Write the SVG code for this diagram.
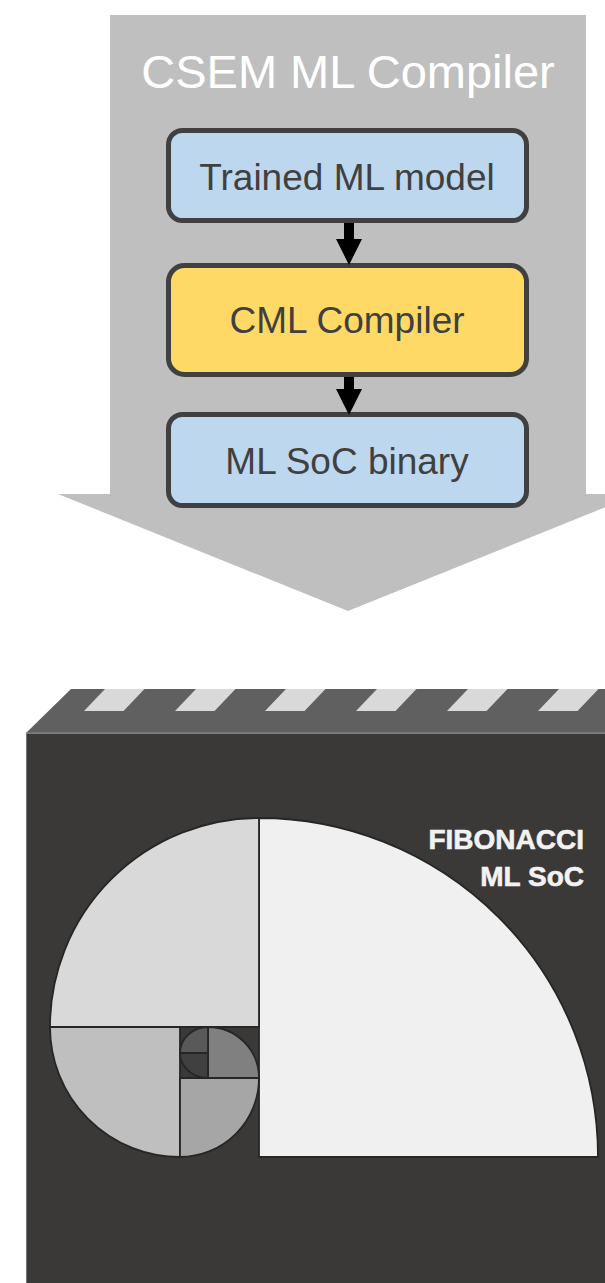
<svg xmlns="http://www.w3.org/2000/svg" width="605" height="1283" viewBox="0 0 605 1283">
  <defs>
    <style>
      .title { font-family: "Liberation Sans", Arial, sans-serif; font-size: 47px; fill: #ffffff; text-anchor: middle; }
      .lbl { font-family: "Liberation Sans", Arial, sans-serif; font-size: 37px; fill: #404040; text-anchor: middle; }
      .box { stroke: #404040; stroke-width: 5; }
      .blue { fill: #bdd7ee; }
      .yellow { fill: #ffd966; }
      .arrow { fill: #000000; }
      .stripe { fill: #d9d9d9; }
      .sec { stroke: #262626; stroke-width: 1.8; stroke-linejoin: round; }
      .brand { font-family: "Liberation Sans", Arial, sans-serif; font-weight: bold; font-size: 28px; fill: #f2f2f2; stroke: #f2f2f2; stroke-width: 0.6; text-anchor: end; }
    </style>
  </defs>

  <rect width="605" height="1283" fill="#ffffff"/>

  <!-- big grey block arrow behind the compiler flow -->
  <g id="compiler-arrow">
    <polygon points="110,15 586,15 586,494 638,494 348,611 58,494 110,494" fill="#bfbfbf"/>
    <text class="title" x="348" y="88">CSEM ML Compiler</text>
  </g>

  <g id="node-trained-model">
    <rect class="box blue" x="168.5" y="130.5" width="358" height="90" rx="14"/>
    <text class="lbl" x="347" y="190">Trained ML model</text>
  </g>

  <g id="node-cml-compiler">
    <rect class="box yellow" x="168.5" y="265.5" width="358" height="109" rx="16"/>
    <text class="lbl" x="347" y="333">CML Compiler</text>
  </g>

  <g id="node-soc-binary">
    <rect class="box blue" x="168.5" y="414.5" width="358" height="91" rx="14"/>
    <text class="lbl" x="347" y="474">ML SoC binary</text>
  </g>

  <g id="connectors">
    <polygon class="arrow" points="344,223 354,223 354,239 362,239 349,265 336,239 344,239"/>
    <polygon class="arrow" points="344,377 354,377 354,389 362,389 349,415 336,389 344,389"/>
  </g>

  <!-- chip package -->
  <g id="chip">
    <polygon points="26,733 71,689 620,689 620,733" fill="#616060"/>
    <line x1="26" y1="733" x2="620" y2="733" stroke="#8a8a8a" stroke-width="1"/>
    <polygon class="stripe" points="84,711 123.5,711 144.5,689 105,689"/>
    <polygon class="stripe" points="175,711 214.5,711 235.5,689 196,689"/>
    <polygon class="stripe" points="265,711 304.5,711 325.5,689 286,689"/>
    <polygon class="stripe" points="356,711 395.5,711 416.5,689 377,689"/>
    <polygon class="stripe" points="447,711 486.5,711 507.5,689 468,689"/>
    <polygon class="stripe" points="538,711 577.5,711 598.5,689 559,689"/>
    <rect x="26" y="733.5" width="600" height="560" fill="#3a3938"/>
    <line x1="26.5" y1="733" x2="26.5" y2="1283" stroke="#777777" stroke-width="1"/>
  </g>

  <!-- golden spiral logo -->
  <g id="spiral">
    <path class="sec" d="M259,1157 L259,818 A339,339 0 0 1 598,1157 Z" fill="#f0f0f0"/>
    <path class="sec" d="M259,1027 L50,1027 A209,209 0 0 1 259,818 Z" fill="#d9d9d9"/>
    <path class="sec" d="M180,1027 L180,1157 A130,130 0 0 1 50,1027 Z" fill="#bfbfbf"/>
    <path class="sec" d="M180,1078 L259,1078 A79,79 0 0 1 180,1157 Z" fill="#a6a6a6"/>
    <path class="sec" d="M208,1078 L208,1027 A51,51 0 0 1 259,1078 Z" fill="#808080"/>
    <path class="sec" d="M208,1053 L180,1053 A28,26 0 0 1 208,1027 Z" fill="#595959"/>
    <path class="sec" d="M208,1053 L208,1078 A28,25 0 0 1 180,1053 Z" fill="#404040"/>
  </g>

  <g id="chip-label">
    <text class="brand" x="584" y="849">FIBONACCI</text>
    <text class="brand" x="584" y="886">ML SoC</text>
  </g>
</svg>
